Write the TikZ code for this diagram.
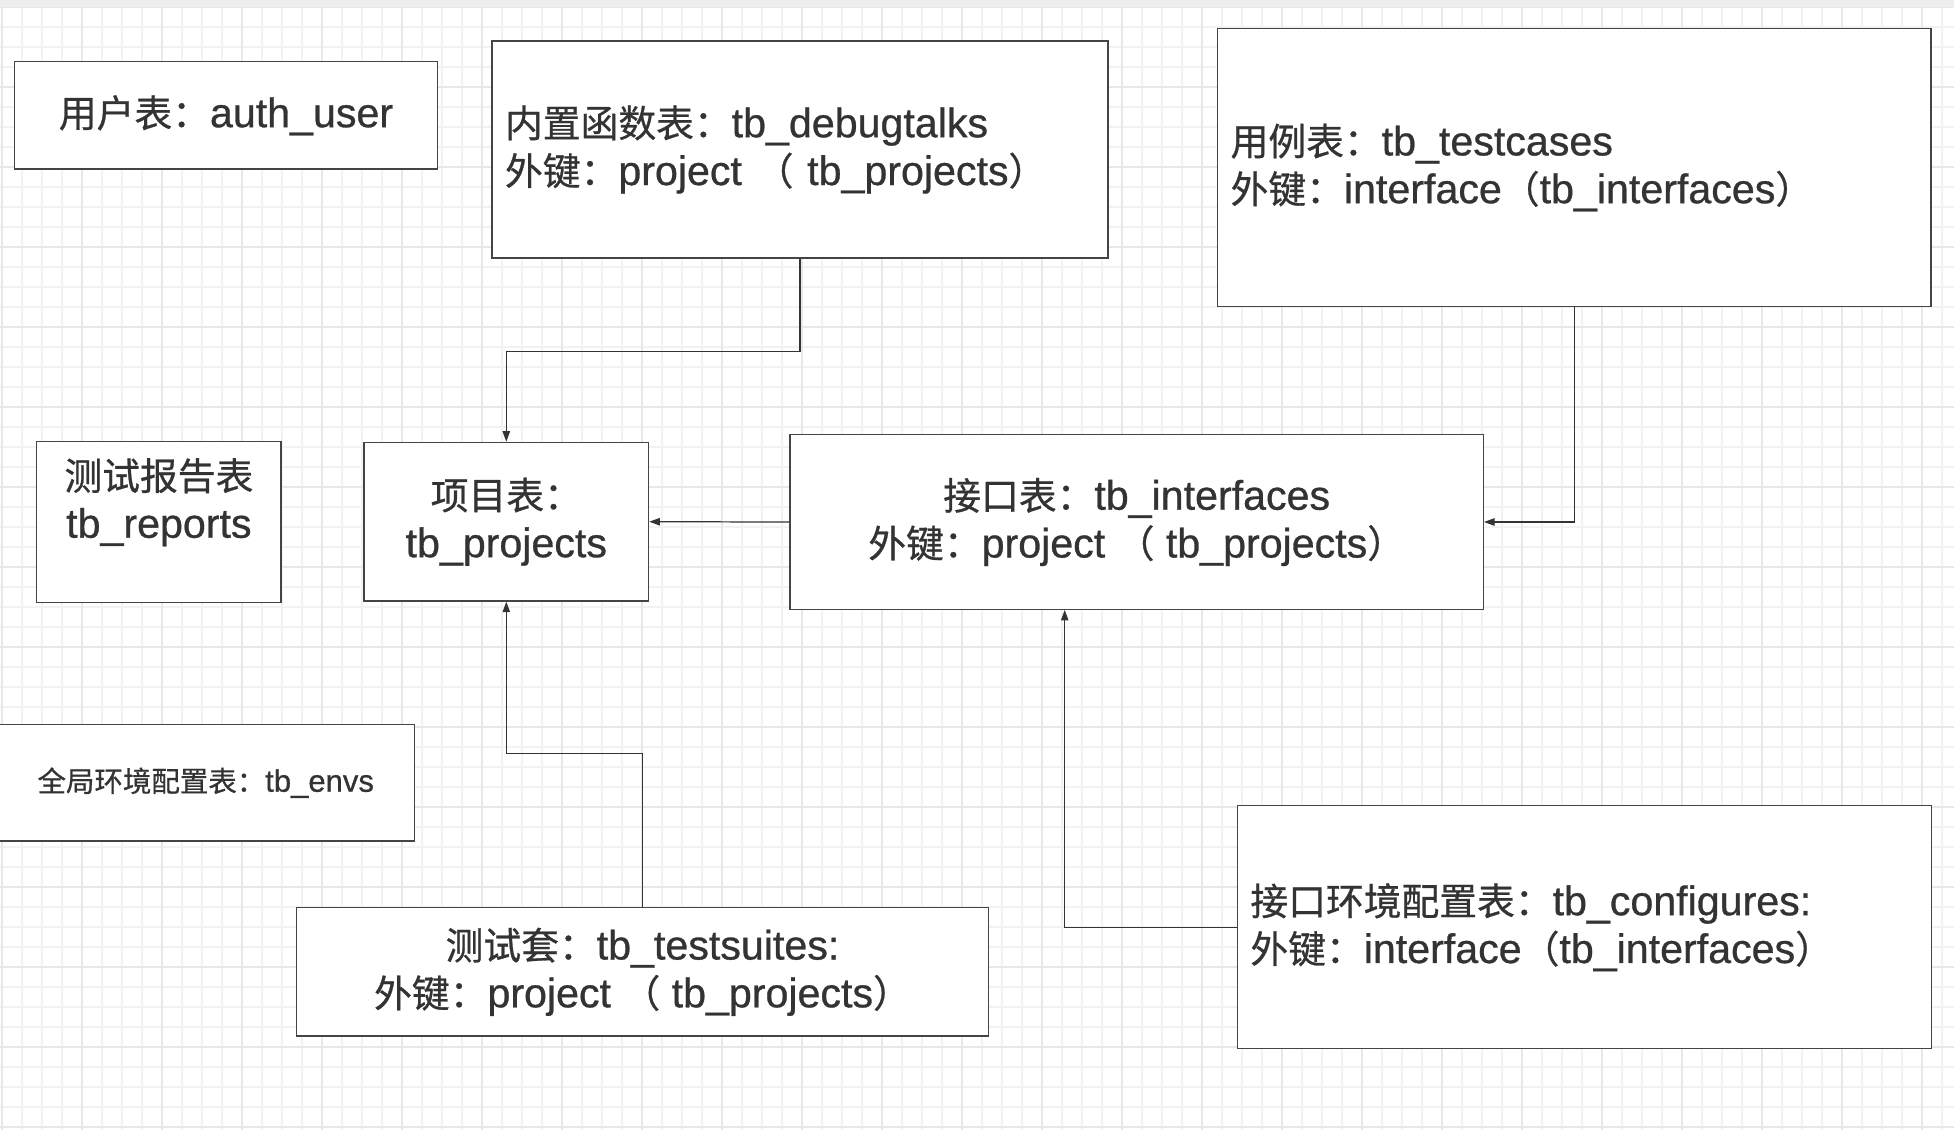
\documentclass[tikz,border=0pt]{standalone}
\usepackage{fontspec}
\setmainfont{Liberation Sans}[Scale=1.09,FakeBold=0.7]
\newfontfamily\zhfont{Noto Sans CJK SC}[FakeBold=0.7]
\newcommand{\zh}[1]{{\zhfont #1}}
\usetikzlibrary{arrows.meta,positioning}
\definecolor{gridline}{HTML}{F2F2F2}
\definecolor{gridmajor}{HTML}{E8E8E8}
\definecolor{topband}{HTML}{EEEEEE}
\definecolor{ink}{HTML}{333333}
\definecolor{boxline}{HTML}{444444}

\begin{document}
\begin{tikzpicture}[x=0.02cm,y=-0.02cm,>={Triangle[length=6pt,width=4.2pt]},line width=0.7pt,
                    table box/.style={rectangle,draw=boxline,fill=white,text=ink,inner sep=0pt,
                                      font=\fontsize{21.5}{27.2}\selectfont},
                    left box/.style={table box,align=left,inner xsep=0.26cm},
                    mid box/.style={table box,align=center},
                    table text/.style={text=ink,inner sep=0pt,align=center,
                                       font=\fontsize{21.5}{27.2}\selectfont},
                    link/.style={->,draw=ink}]
  \useasboundingbox (0,0) rectangle (1954,1130);
  % background grid
  \fill[white] (0,0) rectangle (1954,1130);
  \foreach \gx in {1.7,21.7,...,1954} \draw[gridline,line width=1.1pt] (\gx,0) -- (\gx,1130);
  \foreach \gy in {7.3,27.3,...,1130} \draw[gridline,line width=1.1pt] (0,\gy) -- (1954,\gy);
  \foreach \gx in {1.7,81.7,...,1954} \draw[gridmajor,line width=1.1pt] (\gx,0) -- (\gx,1130);
  \foreach \gy in {7.3,87.3,...,1130} \draw[gridmajor,line width=1.1pt] (0,\gy) -- (1954,\gy);
  \fill[topband] (0,0) rectangle (1954,6.5);

  % tables
  \node[mid box,minimum width=8.47cm,minimum height=2.15cm] (user) at (226,115.3)
    {\zh{用户表：}auth\_user};
  \node[left box,text width=11.8cm,minimum height=4.34cm] (debug) at (800,149.5)
    {\zh{内置函数表：}tb\_debugtalks\\\zh{外键：}project \zh{（} tb\_projects\zh{）}};
  \node[left box,text width=13.75cm,minimum height=5.56cm] (cases) at (1574.3,167.5)
    {\zh{用例表：}tb\_testcases\\\zh{外键：}interface\zh{（}tb\_interfaces\zh{）}};
  \node[table box,minimum width=4.886cm,minimum height=3.212cm] (reports) at (158.9,522) {};
  \node[table text,below=0.33cm of reports.north] (reportsText)
    {\zh{测试报告表}\\tb\_reports};
  \node[mid box,minimum width=5.694cm,minimum height=3.174cm] (projects) at (506.3,521.7)
    {\zh{项目表：}\\tb\_projects};
  \node[mid box,minimum width=13.868cm,minimum height=3.492cm] (interfaces) at (1136.7,522)
    {\zh{接口表：}tb\_interfaces\\\zh{外键：}project \zh{（} tb\_projects\zh{）}};
  \node[mid box,minimum width=8.35cm,minimum height=2.334cm,font=\fontsize{16.2}{20}\selectfont]
    (envs) at (205.75,782.7) {\zh{全局环境配置表：}tb\_envs};
  \node[mid box,minimum width=13.84cm,minimum height=2.566cm] (suites) at (642.5,971.8)
    {\zh{测试套：}tb\_testsuites:\\\zh{外键：}project \zh{（} tb\_projects\zh{）}};
  \node[left box,text width=13.366cm,minimum height=4.86cm] (configs) at (1584.5,927.2)
    {\zh{接口环境配置表：}tb\_configures:\\\zh{外键：}interface\zh{（}tb\_interfaces\zh{）}};

  % foreign keys
  \draw[link] (debug.south) -- ++(0,93) -| (projects.north);
  \draw[link] (interfaces.west) -- (projects.east);
  \draw[link] (cases.south) |- (interfaces.east);
  \draw[link] (configs.west) -| ([xshift=-1.44cm]interfaces.south);
  \draw[link] (suites.north) -- ++(0,-153.7) -| (projects.south);
\end{tikzpicture}
\end{document}
